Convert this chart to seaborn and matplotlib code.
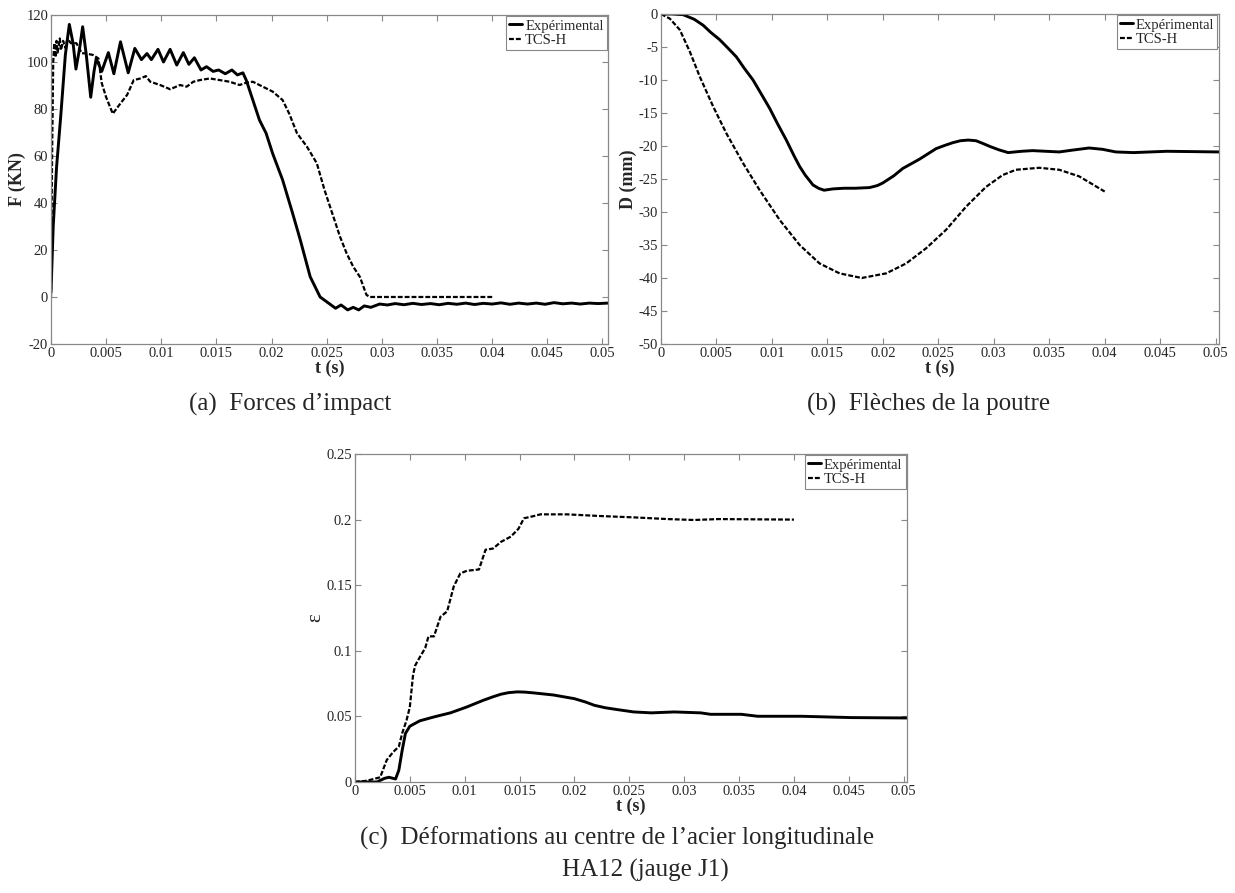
import numpy as np
import pandas as pd
import matplotlib
matplotlib.use("Agg")
import matplotlib.pyplot as plt
import seaborn as sns

# ---- (a) impact force ----
t_exp_a = [0, 0.0002, 0.0005, 0.0009, 0.0013, 0.00166, 0.0020, 0.00226, 0.0026, 0.00287,
           0.0032, 0.0036, 0.0039, 0.0041, 0.0046, 0.0052, 0.0057, 0.0063, 0.0070, 0.0076,
           0.0082, 0.0087, 0.0091, 0.0097, 0.0102, 0.0108, 0.0114, 0.0120, 0.0125, 0.0130,
           0.0136, 0.0141, 0.0147, 0.0152, 0.0158, 0.0164, 0.0169, 0.0174, 0.0177, 0.0183,
           0.0189, 0.0195, 0.0201, 0.0210, 0.0219, 0.0226, 0.0235, 0.0244, 0.0251, 0.0258,
           0.0263, 0.0269, 0.0274, 0.0279, 0.0284, 0.0290, 0.0298, 0.0305, 0.0312, 0.0320,
           0.0328, 0.0336, 0.0344, 0.0352, 0.0360, 0.0368, 0.0376, 0.0384, 0.0392, 0.0400,
           0.0408, 0.0416, 0.0424, 0.0432, 0.0440, 0.0448, 0.0456, 0.0464, 0.0472, 0.0480,
           0.0488, 0.0496, 0.0505]
f_exp_a = [2, 30, 55, 78, 103, 116, 108, 97, 106, 115,
           103, 85, 96, 101.5, 96, 104, 95, 108.6, 95.4, 105.8,
           101, 103.6, 101, 105.4, 100, 105.4, 98.7, 104, 99, 101.8,
           96.6, 98, 96, 96.6, 95, 96.6, 94.5, 95.4, 92.3, 83.8,
           75.3, 69.7, 61, 49.8, 35.7, 24.3, 8.6, 0, -2.4, -4.8,
           -3.4, -5.5, -4.4, -5.5, -3.8, -4.4, -3.0, -3.4, -2.8, -3.3,
           -2.7, -3.2, -2.8, -3.3, -2.7, -3.1, -2.6, -3.2, -2.7, -3.0,
           -2.5, -3.1, -2.6, -3.0, -2.6, -3.1, -2.4, -2.9, -2.6, -3.0,
           -2.6, -2.8, -2.6]

t_num_a = [0, 0.0001, 0.0002, 0.0003, 0.0004, 0.0005, 0.0006, 0.0008, 0.0009, 0.0011,
           0.0013, 0.0015, 0.0018, 0.0023, 0.0028, 0.0031, 0.0038, 0.0043, 0.0046, 0.0050,
           0.0056, 0.0063, 0.0069, 0.0075, 0.0081, 0.0086, 0.0090, 0.0099, 0.0108, 0.0117,
           0.0123, 0.0129, 0.0135, 0.0144, 0.0153, 0.0162, 0.0171, 0.0177, 0.0183, 0.0192,
           0.0201, 0.0210, 0.0216, 0.0223, 0.0232, 0.0241, 0.0248, 0.0256, 0.0262, 0.0268,
           0.0274, 0.0280, 0.0286, 0.0289, 0.0300, 0.0320, 0.0340, 0.0360, 0.0380, 0.0400]
f_num_a = [0, 60, 100, 108, 102, 109, 104, 110, 105, 109,
           106, 110, 108, 108, 103.7, 103.7, 103, 101.5, 91, 85,
           78, 82.4, 86, 92.3, 93, 94, 91.6, 90.2, 88.4, 90.2,
           89.5, 91.6, 92.3, 93, 92.3, 91.6, 90.2, 91.2, 91.6, 89.5,
           87.4, 83.8, 78, 69.7, 64, 56.9, 45.5, 34.2, 25.7, 18.6,
           12.9, 8.6, 0.9, 0, 0, 0, 0, 0, 0, 0]

# ---- (b) beam deflection ----
t_exp_b = [0, 0.0010, 0.0020, 0.0030, 0.0038, 0.0045, 0.0053, 0.0060, 0.0068, 0.0075,
           0.0083, 0.0090, 0.0098, 0.0105, 0.0113, 0.0120, 0.0125, 0.0130, 0.0137, 0.0142,
           0.0147, 0.0155, 0.0165, 0.0175, 0.0188, 0.0195, 0.0200, 0.0210, 0.0218, 0.0233,
           0.0248, 0.0256, 0.0263, 0.0270, 0.0277, 0.0284, 0.0290, 0.0297, 0.0305, 0.0313,
           0.0325, 0.0335, 0.0347, 0.0359, 0.0372, 0.0386, 0.0398, 0.0410, 0.0426, 0.0456,
           0.0503]
d_exp_b = [0, 0, -0.1, -0.8, -1.7, -2.8, -3.9, -5.1, -6.5, -8.2,
           -10, -12, -14.3, -16.6, -19.1, -21.5, -23.1, -24.4, -25.9, -26.4,
           -26.7, -26.5, -26.4, -26.4, -26.3, -26.0, -25.6, -24.5, -23.4, -22.0,
           -20.4, -19.9, -19.5, -19.2, -19.1, -19.2, -19.6, -20.1, -20.6, -21.0,
           -20.8, -20.7, -20.8, -20.9, -20.6, -20.3, -20.5, -20.9, -21.0, -20.8,
           -20.9]

t_num_b = [0, 0.0008, 0.0017, 0.0026, 0.0035, 0.0047, 0.0059, 0.0074, 0.0089, 0.0107,
           0.0125, 0.0143, 0.0161, 0.0181, 0.0203, 0.0221, 0.0239, 0.0257, 0.0275, 0.0293,
           0.0308, 0.0320, 0.0341, 0.0359, 0.0377, 0.0400]
d_num_b = [0, -0.7, -2.4, -5.7, -9.5, -14.0, -18.1, -22.6, -26.7, -31.2,
           -35.0, -37.8, -39.3, -40.0, -39.3, -37.8, -35.5, -32.7, -29.2, -26.2,
           -24.4, -23.6, -23.3, -23.6, -24.6, -26.9]

# ---- (c) strain in longitudinal steel ----
t_exp_c = [0, 0.0020, 0.0027, 0.0031, 0.0037, 0.0040, 0.0043, 0.0046, 0.0050, 0.0059,
           0.0072, 0.0087, 0.0102, 0.0117, 0.0126, 0.0133, 0.0140, 0.0148, 0.0155, 0.0163,
           0.0181, 0.0200, 0.0210, 0.0218, 0.0228, 0.0239, 0.0254, 0.0270, 0.0291, 0.0315,
           0.0324, 0.0352, 0.0367, 0.0407, 0.0452, 0.0503]
e_exp_c = [0, 0, 0.0028, 0.0036, 0.0023, 0.009, 0.024, 0.037, 0.0425, 0.0466,
           0.0496, 0.0527, 0.0572, 0.0623, 0.0650, 0.0669, 0.0681, 0.0687, 0.0685, 0.0679,
           0.0663, 0.0635, 0.0610, 0.0585, 0.0566, 0.0552, 0.0534, 0.0527, 0.0534, 0.0527,
           0.0516, 0.0516, 0.0501, 0.0501, 0.0491, 0.0488]

t_num_c = [0, 0.0011, 0.0023, 0.0029, 0.0035, 0.0040, 0.0043, 0.0047, 0.0050, 0.0053,
           0.0055, 0.0059, 0.0064, 0.0067, 0.0072, 0.0078, 0.0084, 0.0090, 0.0096, 0.0102,
           0.0113, 0.0119, 0.0126, 0.0133, 0.0142, 0.0149, 0.0154, 0.0163, 0.0169, 0.0193,
           0.0224, 0.0254, 0.0285, 0.0309, 0.0331, 0.0400]
e_num_c = [0, 0.001, 0.0036, 0.0168, 0.023, 0.027, 0.037, 0.047, 0.057, 0.082,
           0.089, 0.095, 0.102, 0.111, 0.111, 0.126, 0.130, 0.149, 0.159, 0.161,
           0.162, 0.177, 0.178, 0.183, 0.187, 0.193, 0.201, 0.2027, 0.204, 0.204,
           0.2027, 0.2017, 0.2004, 0.1997, 0.2004, 0.2]

labels = ["Expérimental", "TCS-H"]
x_ticks = [0, 0.005, 0.01, 0.015, 0.02, 0.025, 0.03, 0.035, 0.04, 0.045, 0.05]
x_ticklabels = ["0", "0.005", "0.01", "0.015", "0.02", "0.025", "0.03", "0.035", "0.04", "0.045", "0.05"]

sns.set_theme(style="ticks")
plt.rcParams["font.family"] = ["Liberation Serif", "DejaVu Serif"]
plt.rcParams["axes.unicode_minus"] = False

fig = plt.figure(figsize=(12.35, 8.93), dpi=100)
ax_a = fig.add_axes([0.0413, 0.6148, 0.4510, 0.3684])
ax_b = fig.add_axes([0.5352, 0.6148, 0.4518, 0.3695])
ax_c = fig.add_axes([0.2874, 0.1243, 0.4470, 0.3673])

dash = (0, (2.2, 0.9))


def draw(ax, t1, y1, t2, y2):
    sns.lineplot(x=t1, y=y1, ax=ax, color="black", lw=2.1, label=labels[0],
                 estimator=None, sort=False)
    sns.lineplot(x=t2, y=y2, ax=ax, color="black", lw=1.6, label=labels[1],
                 estimator=None, sort=False, linestyle=dash)
    ax.set_xticks(x_ticks)
    ax.set_xticklabels(x_ticklabels)
    ax.tick_params(direction="in", top=True, right=True, length=4, width=0.8,
                   color="#888888", labelsize=10.5, pad=2)
    for s in ax.spines.values():
        s.set_color("#888888")
        s.set_linewidth(0.9)
    ax.set_xlabel("t (s)", fontsize=13, fontweight="bold", labelpad=0)
    leg = ax.legend(loc="upper right", fontsize=10.5, handlelength=0.9,
                    handletextpad=0.2, borderpad=0.2, borderaxespad=0.1,
                    labelspacing=0.1, fancybox=False, framealpha=1)
    leg.get_frame().set_edgecolor("#888888")
    leg.get_frame().set_linewidth(0.8)


draw(ax_a, t_exp_a, f_exp_a, t_num_a, f_num_a)
ax_a.set_xlim(0, 0.0505)
ax_a.set_ylim(-20, 120)
ax_a.set_yticks(range(-20, 121, 20))
ax_a.set_ylabel("F (KN)", fontsize=13, fontweight="bold", labelpad=0)

draw(ax_b, t_exp_b, d_exp_b, t_num_b, d_num_b)
ax_b.set_xlim(0, 0.0503)
ax_b.set_ylim(-50, 0)
ax_b.set_yticks(range(-50, 1, 5))
ax_b.set_ylabel("D (mm)", fontsize=13, fontweight="bold", labelpad=1)

draw(ax_c, t_exp_c, e_exp_c, t_num_c, e_num_c)
ax_c.set_xlim(0, 0.0503)
ax_c.set_ylim(0, 0.25)
ax_c.set_yticks([0, 0.05, 0.1, 0.15, 0.2, 0.25])
ax_c.set_yticklabels(["0", "0.05", "0.1", "0.15", "0.2", "0.25"])
ax_c.set_ylabel("ε", fontsize=15, labelpad=1)

fig.text(290 / 1235, 1 - 404 / 893, "(a)  Forces d\u2019impact", ha="center", va="center", fontsize=18)
fig.text(929 / 1235, 1 - 404 / 893, "(b)  Flèches de la poutre", ha="center", va="center", fontsize=18)
fig.text(617 / 1235, 1 - 838 / 893, "(c)  Déformations au centre de l\u2019acier longitudinale",
         ha="center", va="center", fontsize=18)
fig.text(645 / 1235, 1 - 870 / 893, "HA12 (jauge J1)", ha="center", va="center", fontsize=18)

fig.savefig("out.png", dpi=100)
